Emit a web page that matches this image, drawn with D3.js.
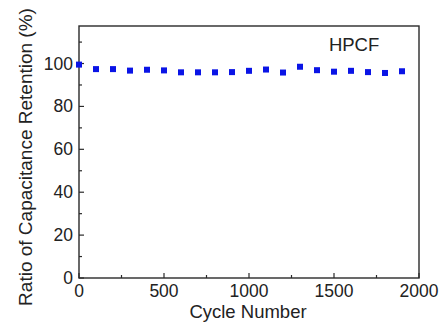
<!DOCTYPE html>
<html>
<head>
<meta charset="utf-8">
<script src="https://cdn.jsdelivr.net/npm/d3@7"></script>
<style>
  html, body { margin: 0; padding: 0; background: #fff; }
  svg { display: block; font-family: Arial, "Liberation Sans", sans-serif; }
</style>
</head>
<body>
<svg id="chart" width="440" height="322"></svg>
<script>
// Cycle number vs. capacitance retention (%)
const cycles = [0, 100, 200, 300, 400, 500, 600, 700, 800, 900,
                1000, 1100, 1200, 1300, 1400, 1500, 1600, 1700, 1800, 1900];
const retention = [99.5, 97.4, 97.4, 96.7, 97.1, 96.8, 95.9, 95.9, 95.9, 96.0,
                   96.6, 97.2, 95.8, 98.5, 96.9, 96.2, 96.6, 96.0, 95.6, 96.4];
const xMajorTicks = [0, 500, 1000, 1500, 2000];
const xMinorTicks = [250, 750, 1250, 1750];
const yMajorTicks = [0, 20, 40, 60, 80, 100];
const yMinorTicks = [10, 30, 50, 70, 90, 110];
const seriesLabel = "HPCF";

const margin = { top: 26, right: 21, bottom: 44, left: 79 };
const W = 440, H = 322;
const w = W - margin.left - margin.right;
const h = H - margin.top - margin.bottom;

const svg = d3.select("#chart");
const g = svg.append("g").attr("transform", `translate(${margin.left},${margin.top})`);

const x = d3.scaleLinear().domain([0, 2000]).range([0, w]);
const y = d3.scaleLinear().domain([0, 117.5]).range([h, 0]);

const ink = "#2a2a2a";
const tickFont = "17.5px";
const titleFont = "18.5px";

// frame
g.append("rect")
  .attr("x", 0).attr("y", 0).attr("width", w).attr("height", h)
  .attr("fill", "none").attr("stroke", ink).attr("stroke-width", 1.4);

// x ticks (pointing inward)
xMajorTicks.forEach((t) => {
  g.append("line")
    .attr("x1", x(t)).attr("x2", x(t)).attr("y1", h).attr("y2", h - 5)
    .attr("stroke", ink).attr("stroke-width", 1.2);
  g.append("text")
    .attr("x", x(t)).attr("y", h + 19)
    .attr("text-anchor", "middle").attr("font-size", tickFont).attr("fill", "#222")
    .text(t);
});
xMinorTicks.forEach((t) => {
  g.append("line")
    .attr("x1", x(t)).attr("x2", x(t)).attr("y1", h).attr("y2", h - 3)
    .attr("stroke", ink).attr("stroke-width", 1.2);
});

// y ticks
yMajorTicks.forEach((t) => {
  g.append("line")
    .attr("x1", 0).attr("x2", 5).attr("y1", y(t)).attr("y2", y(t))
    .attr("stroke", ink).attr("stroke-width", 1.2);
  g.append("text")
    .attr("x", -6).attr("y", y(t) + 6)
    .attr("text-anchor", "end").attr("font-size", tickFont).attr("fill", "#222")
    .text(t);
});
yMinorTicks.forEach((t) => {
  g.append("line")
    .attr("x1", 0).attr("x2", 3).attr("y1", y(t)).attr("y2", y(t))
    .attr("stroke", ink).attr("stroke-width", 1.2);
});

// data points
const pts = cycles.map((c, i) => ({ c, v: retention[i] }));
g.selectAll("rect.pt")
  .data(pts)
  .enter().append("rect")
  .attr("class", "pt")
  .attr("x", (d) => x(d.c) - 3)
  .attr("y", (d) => y(d.v) - 3)
  .attr("width", 6).attr("height", 6)
  .attr("fill", "#0a14e6");

// series label
g.append("text")
  .attr("x", x(1470)).attr("y", y(106))
  .attr("font-size", "18.5px").attr("fill", "#222")
  .text(seriesLabel);

// axis titles
svg.append("text")
  .attr("x", margin.left + w / 2 - 1).attr("y", 318)
  .attr("text-anchor", "middle").attr("font-size", titleFont).attr("fill", "#222")
  .text("Cycle Number");

svg.append("text")
  .attr("transform", `translate(32,${157}) rotate(-90)`)
  .attr("text-anchor", "middle").attr("font-size", "19px").attr("fill", "#222")
  .text("Ratio of Capacitance Retention (%)");
</script>
</body>
</html>
